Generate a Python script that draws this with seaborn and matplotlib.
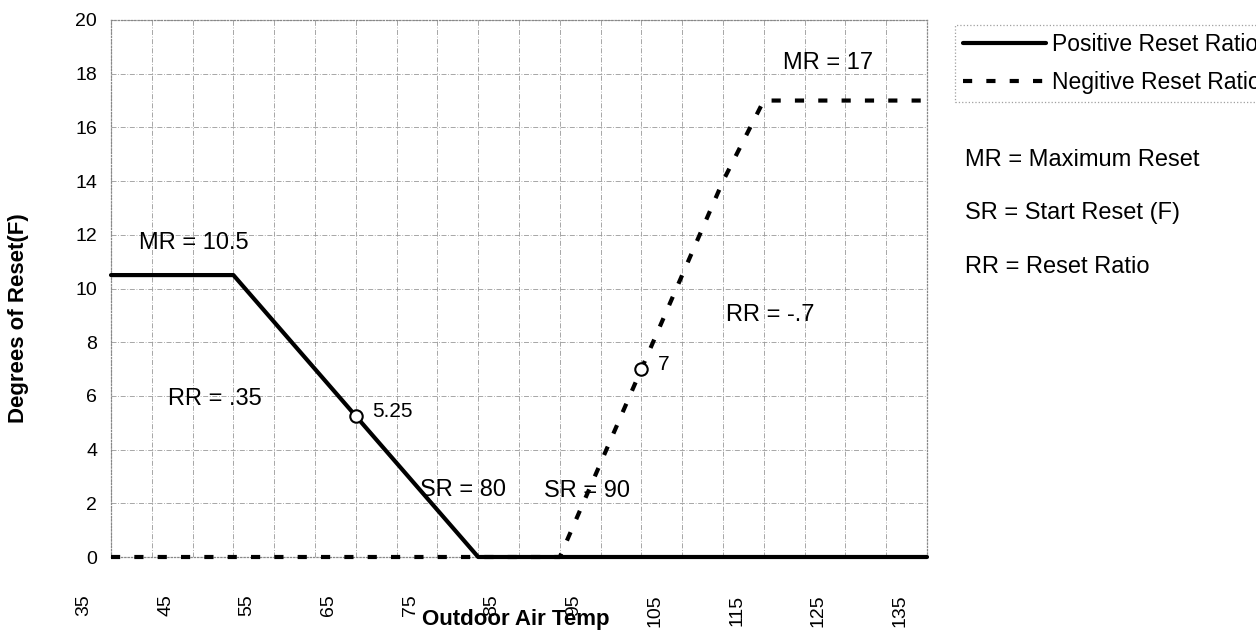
"""
Reset schedule chart: degrees of reset vs outdoor air temp, positive and negative reset ratios.
"""

import matplotlib as mpl
import matplotlib.pyplot as plt
import matplotlib.transforms as mtransforms
import pandas as pd
import seaborn as sns

# data
OUTDOOR_TEMPS = [35, 40, 45, 50, 55, 60, 65, 70, 75, 80, 85, 90, 95, 100, 105, 110, 115, 120, 125, 130, 135]
POSITIVE_RESET = [10.5, 10.5, 10.5, 10.5, 8.75, 7.0, 5.25, 3.5, 1.75, 0, 0, 0, 0, 0, 0, 0, 0, 0, 0, 0, 0]
NEGATIVE_RESET = [0, 0, 0, 0, 0, 0, 0, 0, 0, 0, 0, 0, 3.5, 7.0, 10.5, 14.0, 17.0, 17.0, 17.0, 17.0, 17.0]
MARKER_TEMPS = [65, 100]
MARKER_VALUES = [5.25, 7.0]
MARKER_LABELS = ["5.25", "7"]
TICK_LABELS = [35, 45, 55, 65, 75, 85, 95, 105, 115, 125, 135]
SERIES_NAMES = ["Positive Reset Ratio", "Negitive Reset Ratio"]
ANNOTATIONS = [
    ("MR = 10.5", 45.2, 11.7),
    ("RR = .35", 47.7, 5.9),
    ("SR = 80", 78.1, 2.5),
    ("SR = 90", 93.3, 2.45),
    ("RR = -.7", 115.8, 9.0),
    ("MR = 17", 122.9, 18.4),
]
DEFINITIONS = ["MR = Maximum Reset", "SR = Start Reset (F)", "RR = Reset Ratio"]

W, H = 1256, 635
DPI = 100
GRID_STYLE = (0, (6, 2, 1, 2))


def setup_style():
    sns.set_theme(style="white")
    mpl.rcParams.update({
        "font.family": ["Liberation Sans", "DejaVu Sans"],
        "axes.edgecolor": "#888888",
        "text.color": "black",
        "xtick.color": "black",
        "ytick.color": "black",
        "axes.labelcolor": "black",
    })


def main():
    setup_style()
    fig = plt.figure(figsize=(W / DPI, H / DPI), dpi=DPI)
    ax = fig.add_axes([111 / W, 1 - 557 / H, 816 / W, 537 / H])

    df = pd.DataFrame({
        "temp": OUTDOOR_TEMPS,
        "positive": POSITIVE_RESET,
        "negative": NEGATIVE_RESET,
    })

    sns.lineplot(data=df, x="temp", y="negative", ax=ax, color="black", linewidth=3.0,
                 linestyle=(0, (2.2, 3.4)), label=SERIES_NAMES[1], clip_on=False, zorder=3)
    sns.lineplot(data=df, x="temp", y="positive", ax=ax, color="black", linewidth=3.0,
                 label=SERIES_NAMES[0], clip_on=False, zorder=4)
    sns.scatterplot(x=MARKER_TEMPS, y=MARKER_VALUES, ax=ax, marker="o", s=80,
                    facecolor="white", edgecolor="black", linewidth=1.5, zorder=5)

    for text, x, y in zip(MARKER_LABELS, MARKER_TEMPS, MARKER_VALUES):
        ax.annotate(text, xy=(x, y), xytext=(12, 3), textcoords="offset points",
                    ha="left", va="center", fontsize=15, color="black")
    for text, x, y in ANNOTATIONS:
        ax.text(x, y, text, ha="center", va="center", fontsize=17, color="black", zorder=6)

    ax.set_xlim(35, 135)
    ax.set_ylim(0, 20)
    ax.set_xticks(TICK_LABELS)
    ax.set_xticks([t + 5 for t in TICK_LABELS[:-1]], minor=True)
    ax.set_xticklabels([str(t) for t in TICK_LABELS], rotation=90, fontsize=14)
    ax.set_yticks(range(0, 21, 2))
    ax.tick_params(axis="y", labelsize=14, length=0, pad=10)
    ax.tick_params(axis="x", which="both", length=0, pad=27)
    ax.set_xlabel("")
    ax.set_ylabel("")

    # Excel draws the rotated labels a little left of their gridlines
    shift = mtransforms.ScaledTranslation(-27 / DPI, 0, fig.dpi_scale_trans)
    for lab in ax.get_xticklabels():
        lab.set_transform(lab.get_transform() + shift)

    ax.grid(True, which="both", axis="x", color="#999999", linewidth=0.6, linestyle=GRID_STYLE)
    ax.grid(True, which="major", axis="y", color="#999999", linewidth=0.6, linestyle=GRID_STYLE)
    for side, spine in ax.spines.items():
        spine.set_linestyle(":")
        spine.set_linewidth(0.9)
        spine.set_color("#888888")

    handles, labels = ax.get_legend_handles_labels()
    ax.get_legend().remove()
    order = [labels.index(n) for n in SERIES_NAMES]
    leg = fig.legend(
        [handles[i] for i in order],
        [labels[i] for i in order],
        loc="upper left",
        bbox_to_anchor=(955 / W, 1 - 25 / H),
        borderaxespad=0,
        fontsize=16.5,
        handlelength=3.6,
        handletextpad=0.3,
        labelspacing=0.65,
        borderpad=0.35,
        frameon=True,
        fancybox=False,
    )
    frame = leg.get_frame()
    frame.set_linestyle(":")
    frame.set_edgecolor("#888888")
    frame.set_linewidth(0.9)

    for text, y in zip(DEFINITIONS, [160, 213, 267]):
        fig.text(965 / W, 1 - y / H, text, ha="left", va="center", fontsize=17)

    fig.text(516 / W, 1 - 620 / H, "Outdoor Air Temp", ha="center", va="center",
             fontsize=16, fontweight="bold")
    fig.text(19 / W, 1 - 318 / H, "Degrees of Reset(F)", ha="center", va="center",
             rotation=90, fontsize=16, fontweight="bold")

    fig.savefig("out.png", dpi=DPI, facecolor="white")
    plt.close(fig)


if __name__ == "__main__":
    main()
